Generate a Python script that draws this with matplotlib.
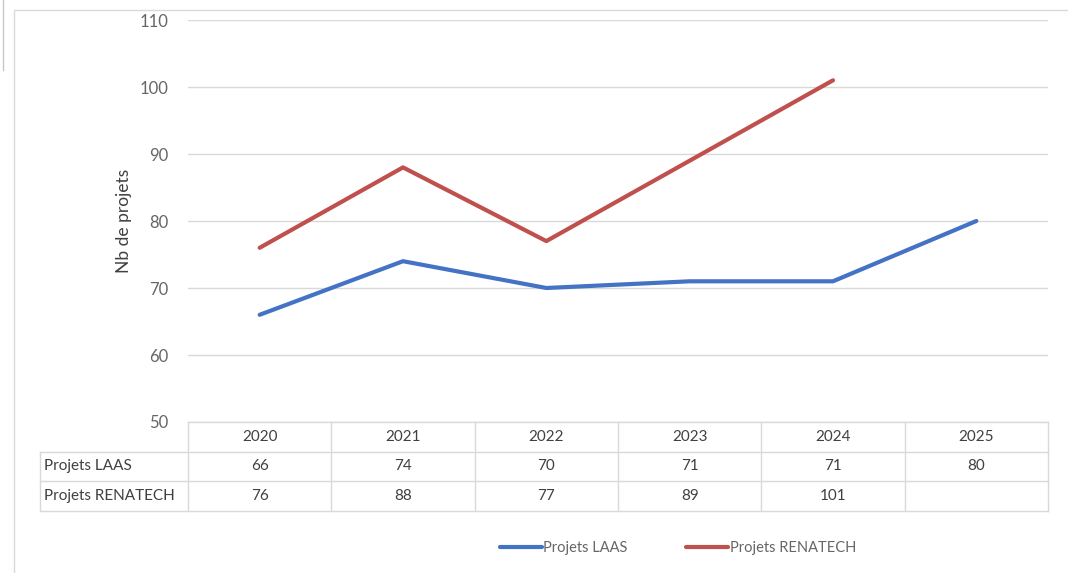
import matplotlib
matplotlib.use("Agg")
import matplotlib.pyplot as plt
from matplotlib.patches import Rectangle
from matplotlib.lines import Line2D
from matplotlib.transforms import blended_transform_factory

# data
years = ["2020", "2021", "2022", "2023", "2024", "2025"]
laas = [66, 74, 70, 71, 71, 80]
renatech = [76, 88, 77, 89, 101]
series_names = ["Projets LAAS", "Projets RENATECH"]

BLUE = "#4472C4"
RED = "#C0504D"
GRID = "#d9d9d9"
TXT = "#666666"

plt.rcParams['font.family'] = ['Lato', 'DejaVu Sans']

W, H = 1068, 573
fig = plt.figure(figsize=(W / 100, H / 100), dpi=100)

# outer chart frame
fig.patches.append(Rectangle((14 / W, -0.1), 1.2, 1.1 - 10 / H, transform=fig.transFigure,
                             fill=False, edgecolor=GRID, lw=1))
fig.add_artist(Line2D([3 / W, 3 / W], [1, 1 - 70 / H], transform=fig.transFigure,
                      color="#c8c8c8", lw=1))

ax = fig.add_axes([188 / W, (H - 422) / H, (1048 - 188) / W, (422 - 20) / H])
x = list(range(len(years)))
ax.plot(x, laas, color=BLUE, lw=3, solid_capstyle="round", label=series_names[0])
ax.plot(x[:len(renatech)], renatech, color=RED, lw=3, solid_capstyle="round",
        label=series_names[1])

ax.set_xlim(-0.5, len(years) - 0.5)
ax.set_ylim(50, 110)
ax.set_yticks(range(50, 111, 10))
ax.tick_params(axis="y", length=0, pad=14, labelsize=12, labelcolor=TXT)
ax.set_xticks([])
ax.grid(axis="y", color=GRID, lw=1)
ax.set_axisbelow(True)
for s in ax.spines.values():
    s.set_visible(False)
ax.set_ylabel("Nb de projets", fontsize=12.5, color="#404040")
ax.yaxis.set_label_coords(-56 / 860, 0.5)

# data table under the plot: x in data units, y in axes units
tr = blended_transform_factory(ax.transData, ax.transAxes)
row_h = 29.5 / 402
lab_left = -0.5 - 148 / 143.3
n = len(years)
tops = [0, -row_h, -2 * row_h, -3 * row_h]
kw = dict(transform=tr, color=GRID, lw=1, clip_on=False)
# horizontal lines
ax.plot([-0.5, n - 0.5], [0, 0], **kw)
for yy in tops[1:]:
    ax.plot([lab_left, n - 0.5], [yy, yy], **kw)
# vertical lines
ax.plot([lab_left, lab_left], [tops[1], tops[3]], **kw)
for i in range(n + 1):
    ax.plot([i - 0.5, i - 0.5], [0, tops[3]], **kw)

rows = [laas, renatech]
tkw = dict(transform=tr, fontsize=11, color="#404040", va="center", clip_on=False)
for i, yr in enumerate(years):
    ax.text(i, -row_h / 2, yr, ha="center", **tkw)
for r, (name, vals) in enumerate(zip(series_names, rows)):
    yc = -row_h * (r + 1.5)
    ax.text(lab_left + 0.03, yc, name, ha="left", **tkw)
    for i, v in enumerate(vals):
        ax.text(i, yc, str(v), ha="center", **tkw)

fig.legend(loc="center", bbox_to_anchor=(678 / W, 1 - 548 / H), ncol=2, frameon=False,
           fontsize=10.5, handlelength=2.9, handletextpad=0.1, columnspacing=4,
           labelcolor=TXT)

fig.savefig("out.png", dpi=100)
